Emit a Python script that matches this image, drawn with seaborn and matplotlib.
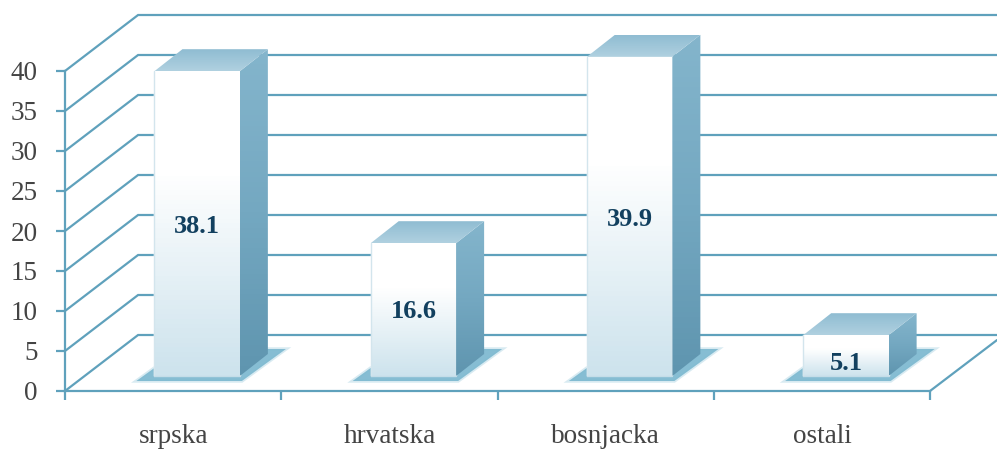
import numpy as np
import pandas as pd
import seaborn as sns
import matplotlib.pyplot as plt
from matplotlib.colors import LinearSegmentedColormap
from matplotlib.patches import Polygon

categories = ["srpska", "hrvatska", "bosnjacka", "ostali"]
values = [38.1, 16.6, 39.9, 5.1]
y_ticks = [0, 5, 10, 15, 20, 25, 30, 35, 40]

W, H = 997, 450
LINE = "#5fa1bc"
TXT = "#444444"

sns.set_style("white")
plt.rcParams["font.family"] = ["Liberation Serif", "DejaVu Serif"]

# pixels -> data units
UX = 1 / 216.0
UY = 1 / 8.0

fig = plt.figure(figsize=(W / 100, H / 100), dpi=100, facecolor="white")


def px_axes(left, top, right, bottom):
    return fig.add_axes([left / W, 1 - bottom / H, (right - left) / W, (bottom - top) / H])


# floor and walls
ax = px_axes(65, 71, 930, 391)
ax.set_xlim(-0.5, 3.5)
ax.set_ylim(0, 40)
ax.patch.set_alpha(0)
ax.set_yticks(y_ticks)
ax.set_xticks(range(len(categories)))
ax.set_xticklabels(categories)
ax.set_xticks(np.arange(-0.5, 4, 1), minor=True)
ax.tick_params(axis="y", length=6.5, width=1.6, color=LINE, pad=13, labelsize=19.5, labelcolor=TXT, left=True)
ax.tick_params(axis="x", which="major", length=0, pad=24, labelsize=19.5, labelcolor=TXT)
ax.tick_params(axis="x", which="minor", length=6.5, width=1.6, color=LINE, bottom=True)
sns.despine(ax=ax)
for s in ["left", "bottom"]:
    ax.spines[s].set_color(LINE)
    ax.spines[s].set_linewidth(1.6)

depth_x = 73 * UX
depth_y = 56 * UY
x_end = -0.5 + (W - 65) * UX
for v in y_ticks:
    ax.plot([-0.5, -0.5 + depth_x, x_end], [v, v + depth_y, v + depth_y],
            color=LINE, lw=1.6, clip_on=False, solid_joinstyle="miter")
ax.plot([3.5, 3.5 + 67 * UX], [0, 51 * UY], color=LINE, lw=1.6, clip_on=False)

# bars, on an axes shifted back onto the floor
ax2 = px_axes(65 + 24, 71 - 15, 930 + 24, 391 - 15)
df = pd.DataFrame({"group": categories, "value": values})
sns.barplot(data=df, x="group", y="value", color="white", width=0.395, saturation=1, ax=ax2, zorder=3)
ax2.patch.set_alpha(0)
ax2.axis("off")

front_cmap = LinearSegmentedColormap.from_list("front", ["#ffffff", "#ffffff", "#e6f1f6", "#cde3ed"])
side_cmap = LinearSegmentedColormap.from_list("side", ["#84b5cc", "#74a8c1", "#5f95af"])
top_cmap = LinearSegmentedColormap.from_list("top", ["#8fbcd2", "#b0d1e0"])

bar_dx = 28 * UX
bar_dy = 22 * UY


def fill(cmap, pts, zorder):
    pts = np.array(pts)
    grad = np.linspace(0, 1, 64).reshape(-1, 1)
    ext = [pts[:, 0].min(), pts[:, 0].max(), pts[:, 1].min(), pts[:, 1].max()]
    im = ax2.imshow(grad, cmap=cmap, extent=ext, aspect="auto", origin="upper", zorder=zorder)
    im.set_clip_box(fig.bbox)
    im.set_clip_path(Polygon(pts, transform=ax2.transData))


for bar in list(ax2.patches):
    x0, x1 = bar.get_x(), bar.get_x() + bar.get_width()
    h = bar.get_height()
    # shadow on the floor
    shadow = [(x0 - 18 * UX, -5 * UY), (x1 + 2 * UX, -5 * UY), (x1 + 46 * UX, 27 * UY),
              (x1 + 22 * UX, 27 * UY), (x0, 8 * UY)]
    ax2.add_patch(Polygon(shadow, fc="#a9d2e2", ec="#a9d2e2", lw=2.5, alpha=0.45, zorder=1, clip_on=False))
    ax2.add_patch(Polygon(shadow, fc="#7db9d0", ec="none", alpha=0.9, zorder=1.5, clip_on=False))
    fill(front_cmap, [(x0, 0), (x1, 0), (x1, h), (x0, h)], 3)
    fill(side_cmap, [(x1, 0), (x1 + bar_dx, bar_dy), (x1 + bar_dx, h + bar_dy), (x1, h)], 3)
    fill(top_cmap, [(x0, h), (x1, h), (x1 + bar_dx, h + bar_dy), (x0 + bar_dx, h + bar_dy)], 3)
    ax2.plot([x0, x0], [0, h], color="#d3e5ed", lw=1, zorder=4, clip_on=False)
    ax2.plot([x0, x1], [0, 0], color="#c4dde8", lw=1, zorder=4, clip_on=False)

ax2.set_xlim(-0.5, 3.5)
ax2.set_ylim(0, 40)

label_shift = [-0.4, -0.3, -0.4, -1.0]
for i, v in enumerate(values):
    ax2.text(i, v / 2 + label_shift[i], f"{v}", ha="center", va="center", fontsize=19, fontweight="bold",
             color="#12405f", zorder=6)

fig.savefig("out.png", dpi=100, facecolor="white")
